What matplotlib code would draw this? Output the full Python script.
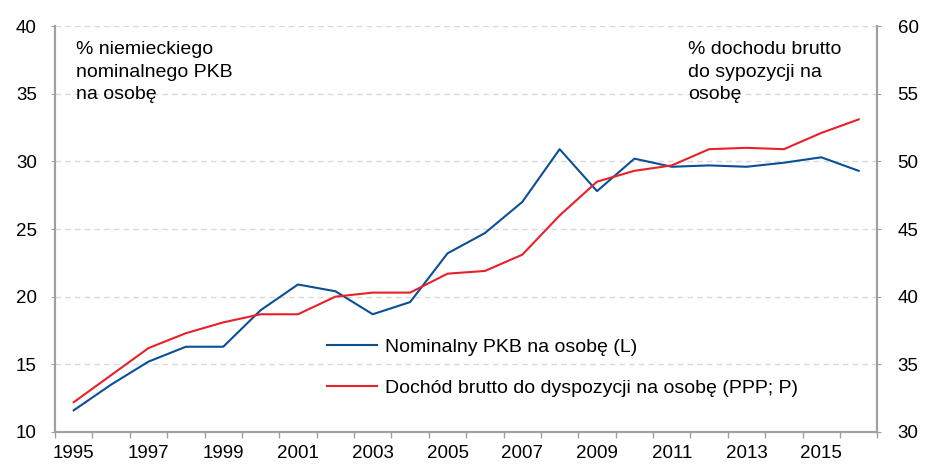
import numpy as np
import matplotlib.pyplot as plt

plt.rcParams['font.family'] = ['Liberation Sans', 'DejaVu Sans']

years = list(range(1995, 2017))
gdp_pc = [11.6, 13.5, 15.2, 16.3, 16.3, 19.0, 20.9, 20.4, 18.7, 19.6, 23.2,
          24.7, 27.0, 30.9, 27.8, 30.2, 29.6, 29.7, 29.6, 29.9, 30.3, 29.3]
income_pc = [32.2, 34.2, 36.2, 37.3, 38.1, 38.7, 38.7, 40.0, 40.3, 40.3, 41.7,
             41.9, 43.1, 46.0, 48.5, 49.3, 49.7, 50.9, 51.0, 50.9, 52.1, 53.1]
label_years = years[::2]

blue = '#0b4f95'
red = '#e8202a'
grey = '#a0a0a0'

fig = plt.figure(figsize=(9.25, 4.65), dpi=100)
ax = fig.add_axes([0.0595, 0.071, 0.889, 0.873])
ax2 = ax.twinx()

x = np.arange(len(years))
l1, = ax.plot(x, gdp_pc, color=blue, lw=1.5, label='Nominalny PKB na osobę (L)')
l2, = ax2.plot(x, income_pc, color=red, lw=1.5,
               label='Dochód brutto do dyspozycji na osobę (PPP; P)')

ax.set_ylim(10, 40)
ax2.set_ylim(30, 60)
ax.set_yticks(np.arange(10, 41, 5))
ax2.set_yticks(np.arange(30, 61, 5))
ax.set_xlim(-0.5, len(years) - 0.5)

ax.set_xticks(np.arange(-0.5, len(years), 1))
ax.set_xticklabels([])
ax.set_xticks([years.index(y) for y in label_years], minor=True)
ax.set_xticklabels([str(y) for y in label_years], minor=True)
ax.tick_params(axis='x', which='major', length=4, color=grey, width=1)
ax.tick_params(axis='x', which='minor', length=0, pad=9.5, labelsize=13.5)

ax.grid(axis='y', color='#d9d9d9', ls=(0, (4, 3)), lw=1)
ax.set_axisbelow(True)

for a in (ax, ax2):
    a.spines['top'].set_visible(False)
    for s in ('left', 'right', 'bottom'):
        a.spines[s].set_color(grey)
        a.spines[s].set_linewidth(1.5)
ax.tick_params(axis='y', length=3, color=grey, labelsize=13.5, pad=10)
ax2.tick_params(axis='y', length=3, color=grey, labelsize=13.5, pad=11.5)

ax.text(0.026, 0.962, '% niemieckiego\nnominalnego PKB\nna osobę', transform=ax.transAxes,
        fontsize=14, va='top', ha='left', linespacing=1.42)
ax.text(0.77, 0.962, '% dochodu brutto\ndo sypozycji na\nosobę', transform=ax.transAxes,
        fontsize=14, va='top', ha='left', linespacing=1.42)

ax.legend(handles=[l1, l2], loc='center left', bbox_to_anchor=(0.31, 0.158),
          frameon=False, fontsize=14, handlelength=2.55, handletextpad=0.42,
          labelspacing=1.2)

plt.savefig('out.png', dpi=100)
